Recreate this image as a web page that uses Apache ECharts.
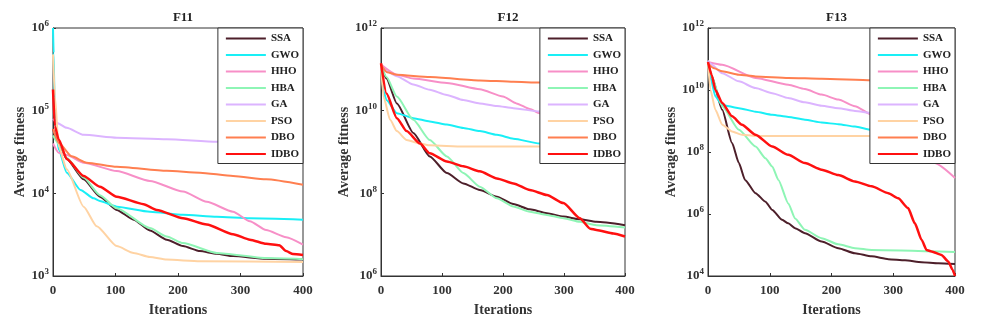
<!DOCTYPE html>
<html><head><meta charset="utf-8">
<script src="https://cdn.jsdelivr.net/npm/echarts@6/dist/echarts.min.js"></script>
<style>html,body{margin:0;padding:0;background:#fff}#c{width:982px;height:333px}</style>
</head><body><div id="c"></div>
<script>
var names = ['SSA','GWO','HHO','HBA','GA','PSO','DBO','IDBO'];
var colors = ['#4d1f2a','#19eff6','#f78fc7','#8ef5b5','#dcb4ff','#ffd3a3','#ff7f50','#ff1010'];
var titles = ['F11','F12','F13'];
var xTicks = [0,100,200,300,400];
var yMin = [1e3,1e6,1e4];
var yMax = [1e6,1e12,1e12];

// F11 : [iteration, average fitness]
var F11_SSA = [[0,6e4],[9,4.1e4],[22,2.6e4],[49,1.48e4],[75,9.1e3],[102,6.3e3],[129,4.8e3],[155,3.55e3],[182,2.75e3],[208,2.3e3],[235,2.0e3],[262,1.86e3],[288,1.74e3],[341,1.62e3],[400,1.58e3]];
var F11_GWO = [[0,1e6],[1,5e5],[3,8e4],[9,3.4e4],[22,1.78e4],[44,1.1e4],[65,8.7e3],[75,8.1e3],[102,6.9e3],[155,6.0e3],[208,5.5e3],[262,5.2e3],[315,5.0e3],[400,4.8e3]];
var F11_HHO = [[0,4e4],[9,3.1e4],[22,2.9e4],[49,2.35e4],[102,1.86e4],[155,1.41e4],[208,1.05e4],[246,7.9e3],[288,6.0e3],[315,4.6e3],[341,3.6e3],[373,2.95e3],[400,2.4e3]];
var F11_HBA = [[0,5e4],[9,4.0e4],[22,2.7e4],[49,1.55e4],[75,9.5e3],[102,6.6e3],[155,3.8e3],[182,3.0e3],[208,2.5e3],[262,1.9e3],[341,1.65e3],[400,1.6e3]];
var F11_GA = [[0,8e4],[5,7.2e4],[22,6.2e4],[49,5.1e4],[102,4.7e4],[182,4.5e4],[262,4.2e4],[330,4.1e4],[400,4.0e4]];
var F11_PSO = [[0,4.8e5],[3,1.5e5],[9,3.7e4],[22,1.95e4],[49,6.9e3],[70,4.0e3],[102,2.3e3],[129,1.9e3],[155,1.7e3],[182,1.58e3],[235,1.51e3],[400,1.48e3]];
var F11_DBO = [[0,6e4],[9,4.1e4],[30,2.8e4],[54,2.35e4],[102,2.1e4],[182,1.87e4],[235,1.78e4],[288,1.62e4],[341,1.48e4],[400,1.27e4]];
var F11_IDBO = [[0,1.8e5],[3,6.5e4],[9,4.5e4],[22,2.6e4],[49,1.62e4],[75,1.2e4],[102,9.1e3],[145,7.4e3],[166,6.3e3],[208,5.0e3],[246,4.2e3],[288,3.2e3],[315,2.75e3],[341,2.45e3],[362,2.35e3],[373,2.0e3],[384,1.85e3],[400,1.8e3]];

// F12
var F12_SSA = [[0,1.3e11],[9,6e10],[26,1.5e10],[53,2.9e9],[80,7.8e8],[108,3.1e8],[135,1.74e8],[162,1.2e8],[190,8.3e7],[217,5.5e7],[244,4.1e7],[272,3.3e7],[299,2.75e7],[326,2.35e7],[353,2.04e7],[400,1.7e7]];
var F12_GWO = [[0,1.3e11],[4,3e10],[9,1.8e10],[26,8.7e9],[53,6.6e9],[80,5.5e9],[108,4.6e9],[135,3.8e9],[162,3.2e9],[190,2.6e9],[217,2.1e9],[260,1.6e9],[330,1.35e9],[400,1.2e9]];
var F12_HHO = [[0,1.3e11],[26,7.4e10],[53,6e10],[108,4.7e10],[162,3.3e10],[200,2.2e10],[222,1.5e10],[244,1.1e10],[260,8.7e9],[300,4.5e9],[350,1.5e9],[400,5.4e8]];
var F12_HBA = [[0,1.3e11],[9,6.5e10],[26,2.2e10],[53,6e9],[80,1.95e9],[108,7.8e8],[135,3.1e8],[162,1.45e8],[190,7.6e7],[217,4.8e7],[244,3.6e7],[272,3.0e7],[299,2.5e7],[326,2.04e7],[353,1.7e7],[400,1.5e7]];
var F12_GA = [[0,1.3e11],[9,9e10],[26,6.8e10],[53,4.3e10],[80,3.2e10],[108,2.4e10],[135,1.8e10],[162,1.5e10],[190,1.3e10],[217,1.15e10],[260,9.5e9],[330,8e9],[400,6.5e9]];
var F12_PSO = [[0,1.3e11],[4,2.2e10],[15,6e9],[26,3.2e9],[42,1.95e9],[64,1.6e9],[80,1.45e9],[135,1.35e9],[400,1.35e9]];
var F12_DBO = [[0,1.3e11],[10,8.5e10],[26,7.4e10],[80,6.5e10],[162,5.4e10],[217,5.0e10],[260,4.8e10],[330,4.6e10],[400,4.5e10]];
var F12_IDBO = [[0,1.4e11],[9,2.6e10],[26,6.6e9],[42,3.2e9],[64,1.6e9],[80,9.3e8],[108,5.9e8],[135,4.5e8],[162,3.4e8],[190,2.3e8],[217,1.74e8],[244,1.2e8],[272,9.1e7],[299,5.8e7],[326,2.5e7],[343,1.4e7],[353,1.3e7],[381,1.07e7],[400,9e6]];

// F13
var F13_SSA = [[0,8e10],[6,2.8e10],[23,2.3e9],[39,1.95e8],[50,4.4e7],[60,1.26e7],[77,4.7e6],[93,2.5e6],[104,1.35e6],[120,6.5e5],[130,5e5],[141,3.5e5],[157,2.4e5],[184,1.29e5],[211,7.9e4],[238,5.4e4],[265,4.3e4],[292,3.5e4],[319,3.2e4],[346,2.8e4],[373,2.6e4],[400,2.45e4]];
var F13_GWO = [[0,8e10],[4,2.5e10],[12,6.2e9],[23,3.3e9],[50,2.6e9],[77,2.0e9],[104,1.6e9],[130,1.35e9],[157,1.1e9],[184,8.9e8],[211,7.9e8],[238,6.6e8],[265,5.2e8],[330,4.2e8],[400,3.5e8]];
var F13_HHO = [[0,8e10],[23,6.5e10],[77,2.45e10],[130,1.48e10],[157,1.07e10],[184,7.1e9],[211,4.9e9],[238,3e9],[265,1.6e9],[320,2.5e8],[367,4.4e7],[400,1.45e7]];
var F13_HBA = [[0,8e10],[6,2.8e10],[23,3e9],[50,5.2e8],[77,1.5e8],[93,6.3e7],[104,3.4e7],[114,1.26e7],[130,2.2e6],[141,7.2e5],[157,3.1e5],[184,1.66e5],[211,1.05e5],[238,7.9e4],[265,6.9e4],[400,5.9e4]];
var F13_GA = [[0,9e10],[4,7e10],[23,3.5e10],[50,1.9e10],[77,1.15e10],[104,7.9e9],[130,5.5e9],[157,4e9],[184,3.1e9],[211,2.6e9],[238,2.1e9],[265,1.8e9],[330,1.3e9],[400,1.0e9]];
var F13_PSO = [[0,8e10],[4,1e10],[12,2.3e9],[23,7.6e8],[39,4.6e8],[55,3.6e8],[77,3.3e8],[400,3.3e8]];
var F13_DBO = [[0,7e10],[10,5e10],[23,4e10],[50,3.1e10],[77,2.75e10],[130,2.45e10],[184,2.3e10],[265,2.05e10],[330,1.9e10],[400,1.8e10]];
var F13_IDBO = [[0,8e10],[6,3e10],[12,1e10],[23,3.8e9],[39,1.41e9],[55,7.6e8],[77,3.6e8],[104,1.5e8],[130,8.1e7],[157,4.4e7],[184,2.7e7],[211,1.8e7],[238,1.12e7],[265,7.8e6],[292,4.7e6],[308,3.2e6],[324,1.55e6],[335,5e5],[346,1.45e5],[354,6.9e4],[362,6.2e4],[378,4.8e4],[389,2.95e4],[396,1.6e4],[400,1.0e4]];

var panels = [
  [F11_SSA,F11_GWO,F11_HHO,F11_HBA,F11_GA,F11_PSO,F11_DBO,F11_IDBO],
  [F12_SSA,F12_GWO,F12_HHO,F12_HBA,F12_GA,F12_PSO,F12_DBO,F12_IDBO],
  [F13_SSA,F13_GWO,F13_HHO,F13_HBA,F13_GA,F13_PSO,F13_DBO,F13_IDBO]
];

var FONT = 'Liberation Serif';
var gridPos = [{left:53,width:250},{left:381,width:244},{left:708,width:247}];
var yInterval = [1,2,2];

var option = {
  animation:false,
  backgroundColor:'#fff',
  title:[], grid:[], xAxis:[], yAxis:[], legend:[], series:[]
};
gridPos.forEach(function(g,i){
  option.grid.push({left:g.left, width:g.width, top:28, height:248, show:true, borderColor:'#333', borderWidth:1, backgroundColor:'transparent'});
  option.title.push({text:titles[i], left:g.left+g.width/2, top:6, textAlign:'center',
    textStyle:{fontFamily:FONT, fontWeight:'bold', fontSize:13, color:'#222'}});
  option.xAxis.push({type:'value', gridIndex:i, min:xTicks[0], max:xTicks[xTicks.length-1], interval:100,
    name:'Iterations', nameLocation:'middle', nameGap:27,
    nameTextStyle:{fontFamily:FONT, fontWeight:'bold', fontSize:14, color:'#333'},
    axisLine:{lineStyle:{color:'#333'}}, axisTick:{inside:true, length:3, lineStyle:{color:'#333'}},
    splitLine:{show:false},
    axisLabel:{fontFamily:FONT, fontWeight:'bold', fontSize:13, color:'#333', margin:8}});
  option.yAxis.push({type:'log', logBase:10, gridIndex:i, min:yMin[i], max:yMax[i], interval:yInterval[i],
    name:'Average fitness', nameLocation:'middle', nameGap:25,
    nameTextStyle:{fontFamily:FONT, fontWeight:'bold', fontSize:14, color:'#333'},
    axisLine:{lineStyle:{color:'#333'}}, axisTick:{inside:true, length:3, lineStyle:{color:'#333'}},
    splitLine:{show:false}, minorTick:{show:false},
    axisLabel:{fontFamily:FONT, color:'#333', margin:4,
      formatter:function(v){ var e=Math.round(Math.log10(v)); return '{b|10}{s|'+e+'}'; },
      rich:{b:{fontFamily:FONT, fontWeight:'bold', fontSize:13, color:'#333'},
            s:{fontFamily:FONT, fontWeight:'bold', fontSize:9, color:'#333', padding:[0,0,8,0]}}}});
  option.legend.push({orient:'vertical', right:982-(g.left+g.width), top:28, data:names,
    backgroundColor:'#fff', borderColor:'#333', borderWidth:1, padding:[5,4,4,8],
    itemWidth:40, itemHeight:10, itemGap:5.5, icon:'path://M0,4L40,4L40,6L0,6Z',
    textStyle:{fontFamily:FONT, fontWeight:'bold', fontSize:11, color:'#222'}, selectedMode:false});
  panels[i].forEach(function(d,k){
    option.series.push({type:'line', name:names[k], xAxisIndex:i, yAxisIndex:i, data:d,
      symbol:'none', smooth:0.2, smoothMonotone:'x', color:colors[k],
      lineStyle:{width:(k===7?2.5:2), color:colors[k]}, z:2+k*0.01});
  });
});
var chart = echarts.init(document.getElementById('c'), null, {renderer:'canvas'});
chart.setOption(option);
</script></body></html>
